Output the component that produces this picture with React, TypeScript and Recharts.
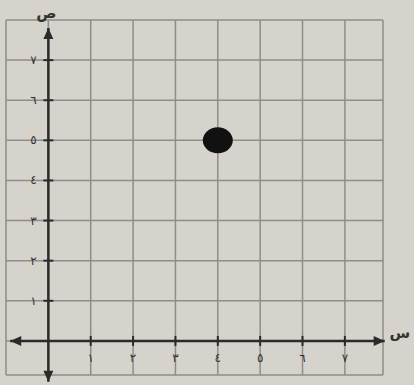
import React from 'react';
import { ScatterChart, Scatter, XAxis, YAxis, ReferenceLine, ReferenceDot } from 'recharts';

// ---- data ----
const arabicDigits = ['١', '٢', '٣', '٤', '٥', '٦', '٧'];
const xTickValues = [1, 2, 3, 4, 5, 6, 7];
const yTickValues = [1, 2, 3, 4, 5, 6, 7];
const xGridValues = [-1, 0, 1, 2, 3, 4, 5, 6, 7, 7.9];
const yGridValues = [-0.85, 0, 1, 2, 3, 4, 5, 6, 7, 8];
const points = [{ x: 4, y: 5 }];
const xDomain: [number, number] = [-1, 7.9];
const yDomain: [number, number] = [-0.85, 8];
const xAxisExtent = [-0.9, 7.94];
const yAxisExtent = [-1.02, 7.8];
const xAxisName = 'س';
const yAxisName = 'ص';

const FONT = '"DejaVu Sans", sans-serif';
const GRID = '#8f8d89';
const AXIS = '#2b2b2b';

const xTicks = xTickValues.map((v, i) => ({ x: v, y: 0, label: arabicDigits[i] }));
const yTicks = yTickValues.map((v, i) => ({ x: 0, y: v, label: arabicDigits[i] }));
const arrows = [
  { x: xAxisExtent[1], y: 0, dir: 'right' },
  { x: xAxisExtent[0], y: 0, dir: 'left' },
  { x: 0, y: yAxisExtent[1], dir: 'up' },
  { x: 0, y: yAxisExtent[0], dir: 'down' },
];
const names = [
  { x: 8.3, y: 0, label: xAxisName, dy: -3 },
  { x: -0.05, y: 8.15, label: yAxisName, dy: 4 },
];

const XTickShape = (p: any) => (
  <g>
    <line x1={p.cx} y1={p.cy - 5} x2={p.cx} y2={p.cy + 5} stroke={AXIS} strokeWidth={2} />
    <text x={p.cx} y={p.cy + 21} textAnchor="middle" fontFamily={FONT} fontSize={12} fill="#333">
      {p.payload.label}
    </text>
  </g>
);

const YTickShape = (p: any) => (
  <g>
    <line x1={p.cx - 5} y1={p.cy} x2={p.cx + 5} y2={p.cy} stroke={AXIS} strokeWidth={2} />
    <text x={p.cx - 15} y={p.cy + 4} textAnchor="middle" fontFamily={FONT} fontSize={12} fill="#333">
      {p.payload.label}
    </text>
  </g>
);

const arrowPoints = (cx: number, cy: number, d: string) => {
  if (d === 'right') return `${cx},${cy} ${cx - 11},${cy - 5} ${cx - 11},${cy + 5}`;
  if (d === 'left') return `${cx},${cy} ${cx + 11},${cy - 5} ${cx + 11},${cy + 5}`;
  if (d === 'up') return `${cx},${cy} ${cx - 5},${cy + 11} ${cx + 5},${cy + 11}`;
  return `${cx},${cy} ${cx - 5},${cy - 11} ${cx + 5},${cy - 11}`;
};

const DotShape = (p: any) => <ellipse cx={p.cx} cy={p.cy} rx={15} ry={13} fill="#111" />;

export default function App() {
  return (
    <div style={{ position: 'absolute', left: 0, top: 0, width: 414, height: 385, background: '#d6d3cc' }}>
      <ScatterChart width={414} height={385} margin={{ top: 20, right: 31, bottom: 10, left: 6 }}>
        <XAxis type="number" dataKey="x" domain={xDomain} hide allowDataOverflow />
        <YAxis type="number" dataKey="y" domain={yDomain} hide allowDataOverflow />
        {xGridValues.map((v) => (
          <ReferenceLine key={'gx' + v} x={v} stroke={GRID} strokeWidth={1.5} />
        ))}
        {yGridValues.map((v) => (
          <ReferenceLine key={'gy' + v} y={v} stroke={GRID} strokeWidth={1.5} />
        ))}
        <ReferenceLine
          segment={[{ x: xAxisExtent[0], y: 0 }, { x: xAxisExtent[1], y: 0 }]}
          stroke={AXIS}
          strokeWidth={2.5}
          ifOverflow="visible"
        />
        <ReferenceLine
          segment={[{ x: 0, y: yAxisExtent[0] }, { x: 0, y: yAxisExtent[1] }]}
          stroke={AXIS}
          strokeWidth={2.5}
          ifOverflow="visible"
        />
        <Scatter data={xTicks} shape={XTickShape} isAnimationActive={false} />
        <Scatter data={yTicks} shape={YTickShape} isAnimationActive={false} />
        {arrows.map((a) => (
          <ReferenceDot
            key={a.dir}
            x={a.x}
            y={a.y}
            ifOverflow="visible"
            shape={(p: any) => <polygon points={arrowPoints(p.cx, p.cy, a.dir)} fill={AXIS} />}
          />
        ))}
        {names.map((n) => (
          <ReferenceDot
            key={n.label}
            x={n.x}
            y={n.y}
            ifOverflow="visible"
            shape={(p: any) => (
              <text x={p.cx} y={p.cy + n.dy} textAnchor="middle" fontFamily={FONT} fontSize={15} fontWeight="bold" fill="#333">
                {n.label}
              </text>
            )}
          />
        ))}
        <Scatter data={points} shape={DotShape} isAnimationActive={false} />
      </ScatterChart>
    </div>
  );
}
